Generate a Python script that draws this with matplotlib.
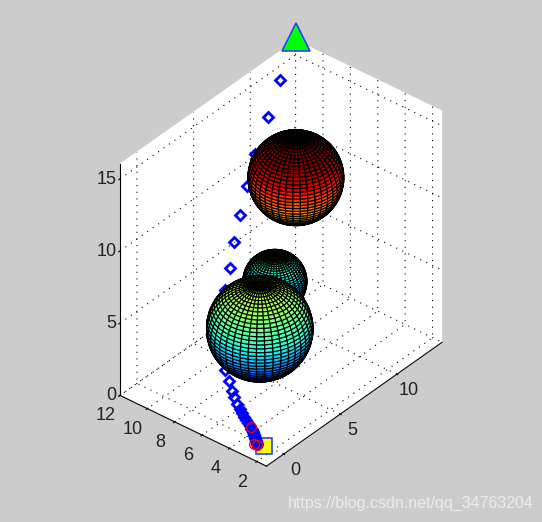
import numpy as np
import matplotlib
matplotlib.use("Agg")
import matplotlib.pyplot as plt

# path
path_x = [-0.10, -0.29, -0.23, -0.17, -0.11, -0.06, -0.04, 0.02, 0.03, 0.05, 0.08, 0.12, 0.18, 0.22, 0.32,
          0.44, 0.61, 0.80, 1.30, 1.87, 2.56, 3.27, 4.10, 5.02, 6.06, 7.19, 8.47, 10.07, 11.60]
path_y = [2.63, 2.99, 3.11, 3.23, 3.35, 3.47, 3.63, 3.76, 3.92, 4.08, 4.25, 4.44, 4.63, 4.89, 5.20,
          5.44, 5.81, 6.26, 6.91, 7.46, 7.89, 8.27, 8.60, 9.08, 9.51, 9.95, 10.37, 10.76, 11.17]
path_z = [0.00, 0.08, 0.21, 0.33, 0.45, 0.58, 0.70, 0.82, 0.95, 1.07, 1.19, 1.36, 1.52, 1.73, 2.02,
          2.27, 2.64, 3.09, 3.91, 4.74, 5.56, 6.39, 7.29, 8.32, 9.43, 10.63, 11.95, 13.47, 15.00]

start = (-0.10, 2.63, 0.0)
goal = (14.0, 12.0, 16.25)

# small red circles near the start
red_x = [0.0, -0.3, -0.35]
red_y = [3.7, 3.0, 3.2]
red_z = [0.8, 0.0, 0.0]

# obstacles
sphere_x = [7.7, 9.72, 3.1]
sphere_y = [8.3, 8.44, 5.6]
sphere_z = [4.5, 10.5, 5.0]
sphere_r = [1.8, 2.7, 3.0]

x_ticks = [0, 5, 10]
y_ticks = [2, 4, 6, 8, 10, 12]
z_ticks = [0, 5, 10, 15]

plt.rcParams['font.family'] = ['Liberation Sans', 'DejaVu Sans']

fig = plt.figure(figsize=(5.42, 5.22), dpi=100, facecolor='#cccccc')
ax = fig.add_axes([3 / 542, 0.6 / 522, 1, 1], projection='3d', computed_zorder=False, proj_type='ortho')
ax.patch.set_alpha(0)
ax.view_init(elev=35.7, azim=-140.4)
ax.set_xlim(-1.5, 14)
ax.set_ylim(1.3, 12)
ax.set_zlim(0, 16)
ax.set_box_aspect((15.5, 10.7, 16), zoom=0.817)

ax.set_xticks(x_ticks)
ax.set_yticks(y_ticks)
ax.set_zticks(z_ticks)
ax.tick_params(labelsize=13, labelcolor='#222222')
ax.tick_params(axis='x', pad=8)
ax.tick_params(axis='y', pad=8)
ax.tick_params(axis='z', pad=-6)

for axis in (ax.xaxis, ax.yaxis, ax.zaxis):
    axis.set_pane_color((1, 1, 1, 1))
    axis.pane.set_edgecolor('white')
    axis._axinfo['grid'].update(color='k', linestyle=(0, (1, 5)), linewidth=0.8)
    axis._axinfo['tick'].update(inward_factor=0.08, outward_factor=0.04)
    axis.line.set_color('k')
    axis.line.set_linewidth(0.8)
for axis in (ax.xaxis, ax.yaxis):
    for t in axis.get_major_ticks():
        t.label1.set_va('bottom')
for t in ax.zaxis.get_major_ticks():
    t.label1.set_va('center')
    t.label1.set_ha('right')

# spheres, coloured by height
u = np.linspace(0, 2 * np.pi, 41)
v = np.linspace(0, np.pi, 41)
norm = plt.Normalize(1.5, 12.5)
for i in range(len(sphere_r)):
    sx = sphere_x[i] + sphere_r[i] * np.outer(np.cos(u), np.sin(v))
    sy = sphere_y[i] + sphere_r[i] * np.outer(np.sin(u), np.sin(v))
    sz = sphere_z[i] + sphere_r[i] * np.outer(np.ones_like(u), np.cos(v))
    ax.plot_surface(sx, sy, sz, facecolors=plt.cm.jet(norm(sz)), edgecolor='k', linewidth=0.8,
                    rstride=1, cstride=1, shade=False, zorder=5 + i)

ax.plot(path_x[1:12], path_y[1:12], path_z[1:12], color='b', lw=7, zorder=3)
ax.plot(path_x[1:], path_y[1:], path_z[1:], 'D', mfc='none', mec='b', mew=2, ms=5, zorder=3)
ax.plot(*[[c] for c in goal], '^', mfc='#00ff00', mec='#3040ff', mew=1.2, ms=20, zorder=10)
ax.plot(*[[c] for c in start], 's', mfc='yellow', mec='#3040ff', mew=1.2, ms=11, zorder=2)
ax.plot(path_x[1:6], path_y[1:6], path_z[1:6], 'o', color='b', ms=8, zorder=3)
ax.plot(red_x, red_y, red_z, 'o', mfc='none', mec='r', mew=0.9, ms=7, zorder=4)

fig.text(0.531, 0.027, 'https://blog.csdn.net/qq_34763204', color='#ececec', fontsize=11.5)

fig.savefig('out.png', dpi=100, facecolor=fig.get_facecolor())
